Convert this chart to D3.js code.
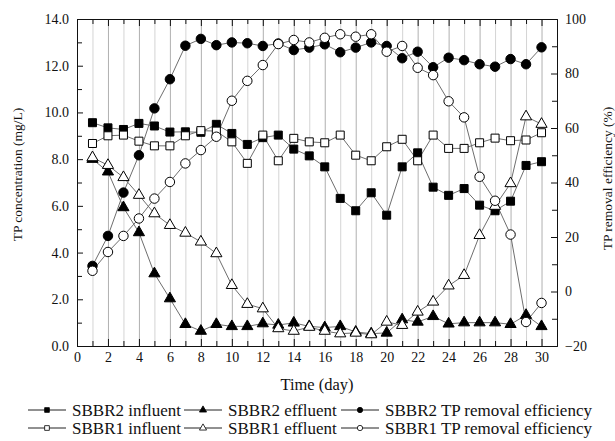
<!DOCTYPE html>
<html lang="en">
<head>
    <meta charset="UTF-8">
    <script src="https://d3js.org/d3.v7.min.js"></script>
    <title>TP concentration and removal</title>
    <style>
    body { margin: 0; background: #fff; }
    text { font-family: "Liberation Serif", "Times New Roman", serif; fill: #111; }
    .axis path, .axis line { stroke: #111; }
    .gridlines .domain { stroke: none; }
    </style>
</head>
<body>
    <svg id="tpplot" width="615" height="441"></svg>
    <script>
        // Data (day 1..30)
        const days = [1, 2, 3, 4, 5, 6, 7, 8, 9, 10, 11, 12, 13, 14, 15, 16, 17, 18, 19, 20, 21, 22, 23, 24, 25, 26, 27, 28, 29, 30];

        const sbbr2Influent = [9.56, 9.34, 9.27, 9.53, 9.42, 9.16, 9.17, 9.15, 9.49, 9.10, 8.63, 8.92, 9.03, 8.43, 8.14, 7.67, 6.32, 5.79, 6.56, 5.60, 7.67, 8.27, 6.80, 6.45, 6.74, 6.03, 5.79, 6.20, 7.73, 7.89];
        const sbbr2Effluent = [8.0, 7.46, 5.93, 4.86, 3.10, 2.03, 0.93, 0.64, 0.93, 0.84, 0.84, 0.96, 0.90, 0.99, 0.84, 0.79, 0.84, 0.60, 0.53, 0.56, 1.13, 1.03, 1.27, 0.95, 1.0, 1.0, 1.0, 0.93, 1.32, 0.84];
        const sbbr2Removal = [9.4, 20.4, 36.3, 50.0, 67.2, 77.9, 90.2, 92.7, 90.4, 91.4, 91.1, 90.1, 91.0, 88.6, 89.5, 90.7, 87.8, 89.5, 91.4, 90.1, 85.6, 88.0, 82.3, 85.8, 84.9, 83.4, 82.5, 85.3, 83.4, 89.6];

        const sbbr1Influent = [8.67, 9.0, 9.03, 8.77, 8.57, 8.57, 9.0, 9.22, 9.2, 8.74, 7.82, 9.03, 7.93, 8.89, 8.74, 8.70, 9.03, 8.17, 7.93, 8.53, 8.85, 7.93, 9.03, 8.46, 8.46, 8.70, 8.90, 8.79, 8.82, 9.13];
        const sbbr1Effluent = [8.07, 7.74, 7.22, 6.46, 5.67, 5.17, 4.84, 4.46, 3.96, 2.60, 1.79, 1.60, 0.75, 0.64, 0.81, 0.64, 0.53, 0.56, 0.49, 1.03, 0.89, 1.46, 1.89, 2.58, 3.03, 4.74, 5.99, 6.96, 9.82, 9.50];
        const sbbr1Removal = [7.6, 14.5, 20.4, 26.8, 34.1, 40.2, 47.0, 51.9, 56.8, 70.0, 77.3, 83.1, 90.8, 92.3, 91.4, 93.1, 94.4, 93.5, 94.4, 88.0, 90.1, 82.1, 79.4, 69.8, 63.9, 42.1, 33.3, 20.9, -11.2, -4.2];

        // Tick values
        const xTicks = [0, 2, 4, 6, 8, 10, 12, 14, 16, 18, 20, 22, 24, 26, 28, 30];
        const leftTicks = [0, 2, 4, 6, 8, 10, 12, 14];
        const rightTicks = [-20, 0, 20, 40, 60, 80, 100];

        const svg = d3.select('svg#tpplot');
        const width = +svg.attr('width');
        const height = +svg.attr('height');
        const margins = {top: 19, right: 58, bottom: 95, left: 77};
        const chartWidth = width - margins.left - margins.right;
        const chartHeight = height - margins.top - margins.bottom;

        svg.append('rect').attr('width', width).attr('height', height).attr('fill', '#fff');

        const chartArea = svg.append('g')
            .attr('transform', `translate(${margins.left},${margins.top})`);

        // Scales
        const xScale = d3.scaleLinear().domain([0, 31]).range([0, chartWidth]);
        const yLeft = d3.scaleLinear().domain([0, 14]).range([chartHeight, 0]);
        const yRight = d3.scaleLinear().domain([-20, 100]).range([chartHeight, 0]);

        // Vertical gridlines at every day (even days a bit darker)
        const grid = chartArea.append('g')
            .attr('class', 'gridlines')
            .attr('transform', `translate(0,${chartHeight})`)
            .call(d3.axisBottom(xScale).tickValues(days).tickSize(-chartHeight).tickFormat(''));
        grid.selectAll('.tick line')
            .attr('stroke', d => d % 2 === 0 ? '#b0b0b0' : '#d4d4d4')
            .attr('stroke-width', 1);

        // Axes (ticks point inward)
        const minorDays = days.filter(d => d % 2 === 1);

        chartArea.append('g').attr('class', 'axis')
            .attr('transform', `translate(0,${chartHeight})`)
            .call(d3.axisBottom(xScale).tickValues(xTicks).tickSizeInner(-7).tickSizeOuter(0).tickPadding(6))
            .call(g => g.selectAll('text').style('font-size', '14px'));
        chartArea.append('g').attr('class', 'axis')
            .attr('transform', `translate(0,${chartHeight})`)
            .call(d3.axisBottom(xScale).tickValues(minorDays).tickSizeInner(-5).tickSizeOuter(0).tickFormat(''));

        chartArea.append('g').attr('class', 'axis')
            .call(d3.axisTop(xScale).tickValues(xTicks).tickSizeInner(-7).tickSizeOuter(0).tickFormat(''));
        chartArea.append('g').attr('class', 'axis')
            .call(d3.axisTop(xScale).tickValues(minorDays).tickSizeInner(-5).tickSizeOuter(0).tickFormat(''));

        chartArea.append('g').attr('class', 'axis')
            .call(d3.axisLeft(yLeft).tickValues(leftTicks).tickSizeInner(-6).tickSizeOuter(0).tickPadding(8).tickFormat(d3.format('.1f')))
            .call(g => g.selectAll('text').style('font-size', '14px'));
        chartArea.append('g').attr('class', 'axis')
            .call(d3.axisLeft(yLeft).tickValues([1, 3, 5, 7, 9, 11, 13]).tickSizeInner(-5).tickSizeOuter(0).tickFormat(''));

        chartArea.append('g').attr('class', 'axis')
            .attr('transform', `translate(${chartWidth},0)`)
            .call(d3.axisRight(yRight).tickValues(rightTicks).tickSizeInner(-6).tickSizeOuter(0).tickPadding(8))
            .call(g => g.selectAll('text').style('font-size', '14px'));
        chartArea.append('g').attr('class', 'axis')
            .attr('transform', `translate(${chartWidth},0)`)
            .call(d3.axisRight(yRight).tickValues([-10, 10, 30, 50, 70, 90]).tickSizeInner(-5).tickSizeOuter(0).tickFormat(''));

        svg.selectAll('.axis text').attr('fill', '#111');

        // Series table built from the arrays above
        const series = [
            {name: 'SBBR2 influent', values: sbbr2Influent, y: yLeft, symbol: d3.symbolSquare, size: 64, filled: true},
            {name: 'SBBR2 effluent', values: sbbr2Effluent, y: yLeft, symbol: d3.symbolTriangle, size: 54, filled: true},
            {name: 'SBBR2 TP removal efficiency', values: sbbr2Removal, y: yRight, symbol: d3.symbolCircle, size: 70, filled: true},
            {name: 'SBBR1 influent', values: sbbr1Influent, y: yLeft, symbol: d3.symbolSquare, size: 64, filled: false},
            {name: 'SBBR1 effluent', values: sbbr1Effluent, y: yLeft, symbol: d3.symbolTriangle, size: 54, filled: false},
            {name: 'SBBR1 TP removal efficiency', values: sbbr1Removal, y: yRight, symbol: d3.symbolCircle, size: 70, filled: false}
        ];

        // lines first, then markers
        series.forEach(s => {
            const line = d3.line().x((v, i) => xScale(days[i])).y(v => s.y(v));
            chartArea.append('path')
                .datum(s.values)
                .attr('fill', 'none')
                .attr('stroke', '#6e6e6e')
                .attr('stroke-width', 1)
                .attr('d', line);
        });

        series.forEach(s => {
            chartArea.append('g').selectAll('path')
                .data(s.values)
                .enter()
                .append('path')
                .attr('transform', (v, i) => `translate(${xScale(days[i])},${s.y(v)})`)
                .attr('d', d3.symbol().type(s.symbol).size(s.size))
                .attr('fill', s.filled ? '#000' : '#fff')
                .attr('stroke', '#000')
                .attr('stroke-width', 1);
        });

        // Axis titles
        svg.append('text')
            .attr('transform', `translate(17,${margins.top + chartHeight / 2 - 8}) rotate(-90)`)
            .attr('text-anchor', 'middle')
            .attr('dy', '0.35em')
            .style('font-size', '13.5px')
            .text('TP concentration (mg/L)');

        svg.append('text')
            .attr('transform', `translate(607,${margins.top + chartHeight / 2 - 4}) rotate(-90)`)
            .attr('text-anchor', 'middle')
            .attr('dy', '0.35em')
            .style('font-size', '13.5px')
            .text('TP removal efficiency (%)');

        svg.append('text')
            .attr('x', margins.left + chartWidth / 2)
            .attr('y', 390)
            .attr('text-anchor', 'middle')
            .style('font-size', '16.5px')
            .text('Time (day)');

        // Legend: two rows of three
        const legendCols = [28, 184, 341];
        const legendRows = [410, 428];
        const legend = svg.append('g');
        series.forEach((s, k) => {
            const col = k % 3;
            const row = Math.floor(k / 3);
            const item = legend.append('g')
                .attr('transform', `translate(${legendCols[col]},${legendRows[row]})`);
            item.append('line')
                .attr('x1', 0).attr('x2', 38)
                .attr('stroke', '#222').attr('stroke-width', 1);
            item.append('path')
                .attr('transform', 'translate(19,0)')
                .attr('d', d3.symbol().type(s.symbol).size(22))
                .attr('fill', s.filled ? '#000' : '#fff')
                .attr('stroke', '#000')
                .attr('stroke-width', 0.8);
            item.append('text')
                .attr('x', 44)
                .attr('dy', '0.35em')
                .style('font-size', '17px')
                .text(s.name);
        });
    </script>
</body>
</html>
